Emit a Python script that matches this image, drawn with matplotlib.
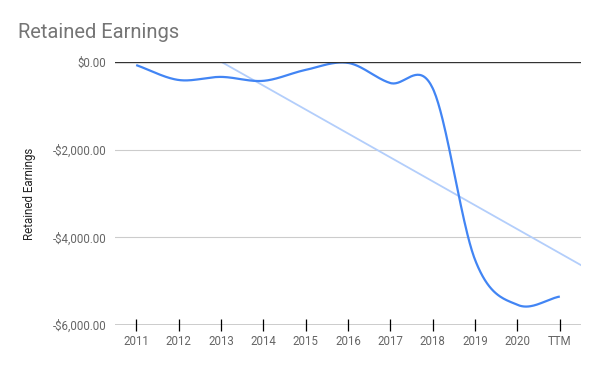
import numpy as np
import matplotlib
matplotlib.use("Agg")
import matplotlib.pyplot as plt
from matplotlib.ticker import FuncFormatter

categories = ["2011", "2012", "2013", "2014", "2015", "2016", "2017", "2018", "2019", "2020", "TTM"]
retained = [-70, -410, -340, -430, -180, -20, -480, -600, -4515, -5540, -5350]
yticks = [0, -2000, -4000, -6000]

plt.rcParams['font.family'] = ['Roboto', 'DejaVu Sans']

x = np.arange(len(categories), dtype=float)
y = np.array(retained, dtype=float)

# Catmull-Rom style smoothing through the points
m = np.zeros_like(y)
m[1:-1] = (y[2:] - y[:-2]) / 2.0
m[0] = y[1] - y[0]
m[-1] = y[-1] - y[-2]
xs, ys = [], []
for i in range(len(x) - 1):
    t = np.linspace(0, 1, 40)
    h00 = 2 * t**3 - 3 * t**2 + 1
    h10 = t**3 - 2 * t**2 + t
    h01 = -2 * t**3 + 3 * t**2
    h11 = t**3 - t**2
    xs.append(x[i] + t)
    ys.append(h00 * y[i] + h10 * m[i] + h01 * y[i + 1] + h11 * m[i + 1])
xs = np.concatenate(xs)
ys = np.concatenate(ys)

fig = plt.figure(figsize=(6, 3.71), dpi=100)
ax = fig.add_axes([115 / 600, 1 - 325 / 371, (581 - 115) / 600, (325 - 62) / 371])

# trendline
coef = np.polyfit(x, y, 1)
tx = np.array([-0.5, 10.5])
ax.plot(tx, np.polyval(coef, tx), color="#b3cefb", lw=1.3, zorder=2)

ax.plot(xs, ys, color="#4285F4", lw=1.6, zorder=3, solid_capstyle="butt")

ax.set_xlim(-0.5, 10.5)
ax.set_ylim(-6000, 0)
ax.set_yticks(yticks)
ax.yaxis.set_major_formatter(FuncFormatter(lambda v, p: ("-$" if v < 0 else "$") + f"{abs(v):,.2f}"))
for v in yticks[1:-1]:
    ax.axhline(v, color="#cccccc", lw=0.8, zorder=1)
ax.axhline(0, color="#333333", lw=1.0, zorder=4)
ax.axhline(-6000, color="#000000", lw=1.0, zorder=4)

ax.set_xticks(x)
ax.set_xticklabels(categories)
for s in ax.spines.values():
    s.set_visible(False)
ax.tick_params(axis="x", direction="inout", length=8.5, width=0.9, color="black",
               labelsize=8.3, labelcolor="#666666", pad=3)
ax.tick_params(axis="y", length=0, labelsize=8.3, labelcolor="#666666", pad=6)

ax.set_ylabel("Retained Earnings", fontsize=8.3, color="#222222", labelpad=12)
fig.text(18 / 600, 1 - 32 / 371, "Retained Earnings", fontsize=14.5, color="#757575", va="center", ha="left")

fig.savefig("out.png", dpi=100, facecolor="white")
